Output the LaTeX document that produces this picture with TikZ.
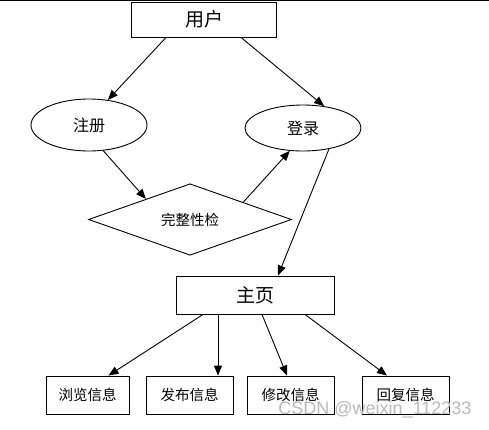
\documentclass[tikz,border=0pt]{standalone}
\usepackage{fontspec}
\newfontfamily\cjk{Noto Sans CJK SC}
\newfontfamily\wmfont{Liberation Sans}
\usetikzlibrary{arrows.meta,shapes,positioning}

\begin{document}
\begin{tikzpicture}[x=1pt,y=-1pt,
    box/.style={rectangle, draw, line width=0.9pt, inner sep=0pt, minimum height=38pt},
    oval/.style={ellipse, draw, line width=0.9pt, inner sep=0pt, minimum width=116pt},
    arr/.style={-{Triangle[length=10pt,width=8pt]}, line width=0.9pt},
    big/.style={font=\cjk\fontsize{19pt}{22pt}\selectfont},
    mid/.style={font=\cjk\fontsize{16pt}{19pt}\selectfont},
    small/.style={font=\cjk\fontsize{14.5pt}{17pt}\selectfont}]
          \useasboundingbox (0,0) rectangle (489,429);
          \draw[line width=1pt] (0,0.5) -- (489,0.5);
          % top part
          \node[box, big, minimum width=145pt, minimum height=35pt] at (204,19.5) (user) {用户};
          \node[oval, mid, minimum height=52pt] at (89,125) (reg) {注册};
          \node[oval, mid, minimum height=46pt] at (303,128) (login) {登录};
          \node[diamond, draw, line width=0.9pt, small, inner sep=0pt,
                minimum width=203pt, minimum height=63pt] at (190,219.5) (check) {完整性检};
          \node[box, big, minimum width=158pt] at (255,295) (home) {主页};
          % bottom row
          \node[box, small, minimum width=83pt] at (87.5,395) (browse) {浏览信息};
          \node[box, small, minimum width=87pt] at (189.5,395) (post) {发布信息};
          \node[box, small, minimum width=87pt] at (290.5,395) (edit) {修改信息};
          \node[box, small, minimum width=87pt] at (405.5,395) (reply) {回复信息};
          \node[text=gray!55, font=\wmfont\fontsize{18pt}{21pt}\selectfont] at (375,410) (wm) {CSDN @weixin\_112233};
          \draw[arr] ([xshift=-38pt]user.south) -- (reg.53);
          \draw[arr] ([xshift=37pt]user.south) -- (login.46);
          \draw[arr] (reg.-61) -- (check.155);
          \draw[arr] (check.18) -- (login.240);
          \draw[arr] (login.-39) -- ([xshift=23pt]home.north);
          \draw[arr] ([xshift=-52pt]home.south) -- ([xshift=21pt]browse.north);
          \draw[arr] ([xshift=-37pt]home.south) -- ([xshift=28.5pt]post.north);
          \draw[arr] ([xshift=7pt]home.south) -- ([xshift=-3.5pt]edit.north);
          \draw[arr] ([xshift=50pt]home.south) -- ([xshift=-18.5pt]reply.north);
        \end{tikzpicture}
\end{document}
